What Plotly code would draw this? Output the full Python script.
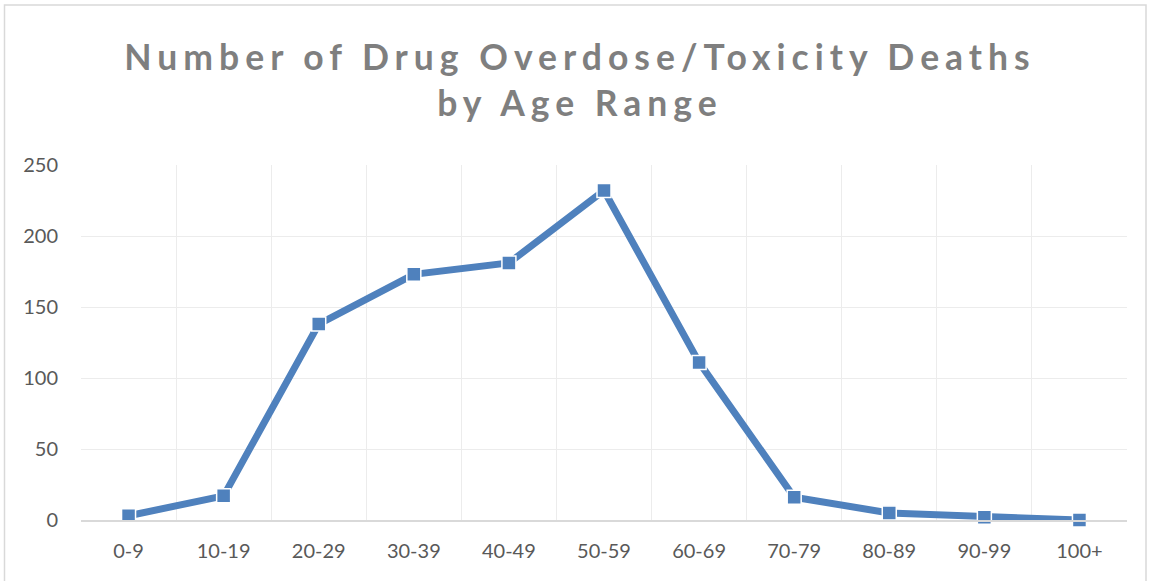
import plotly.graph_objects as go

age_ranges = ["0-9", "10-19", "20-29", "30-39", "40-49", "50-59",
              "60-69", "70-79", "80-89", "90-99", "100+"]
deaths = [3, 17, 138, 173, 181, 232, 111, 16, 5, 2, 0]

y_ticks = [0, 50, 100, 150, 200, 250]

line_color = "#4f81bd"
label_color = "#595959"
title_color = "#7f7f7f"
font_family = "Lato, Open Sans, sans-serif"

# plot area in pixels
L, R, T, B = 81, 24, 165, 61
W, H = 1151, 581
pw, ph = W - L - R, H - T - B

def px_x(p):
    return (p - L) / pw

def px_y(p):
    return (H - B - p) / ph

fig = go.Figure()
fig.add_trace(go.Scatter(
    x=age_ranges, y=deaths, mode="lines+markers",
    line=dict(color=line_color, width=7),
    marker=dict(symbol="square", size=14, color=line_color,
                line=dict(color="white", width=1.5)),
    cliponaxis=False, showlegend=False, hoverinfo="x+y",
))

sp = "letter-spacing:6px"
title_txt = (f"<span style='{sp}'>Number of Drug Overdose/Toxicity Deaths</span>"
             f"<br><span style='{sp}'>by Age Range</span>")

fig.update_layout(
    width=W, height=H,
    margin=dict(l=L, r=R, t=T, b=B, pad=0),
    paper_bgcolor="white", plot_bgcolor="white",
    font=dict(family=font_family, color=label_color, size=20),
    title=dict(text=title_txt, x=(580) / W, xref="container", xanchor="center",
               y=1 - 70 / H, yanchor="middle",
               font=dict(family=font_family, size=35.5, color=title_color, weight="bold")),
    xaxis=dict(type="category", tickson="boundaries", showgrid=True,
               gridcolor="#ececec", gridwidth=1, showline=True,
               linecolor="#d9d9d9", linewidth=1.5, ticks="",
               ticklabelstandoff=12, tickfont=dict(size=20, color=label_color),
               range=[-0.5, len(age_ranges) - 0.5], zeroline=False),
    yaxis=dict(range=[0, 250], tickvals=y_ticks, showgrid=True,
               gridcolor="#ececec", gridwidth=1, zeroline=False,
               showline=False, ticks="", ticklabelstandoff=22,
               tickfont=dict(size=20, color=label_color)),
    shapes=[dict(type="rect", xref="paper", yref="paper",
                 x0=px_x(4.5), x1=px_x(1146), y0=px_y(595), y1=px_y(5),
                 line=dict(color="#d9d9d9", width=1.5), fillcolor="rgba(0,0,0,0)",
                 layer="below")],
)

fig.write_html("out.html", config={"displayModeBar": False},
               post_script="document.body.style.margin='0';document.body.style.overflow='hidden';")
